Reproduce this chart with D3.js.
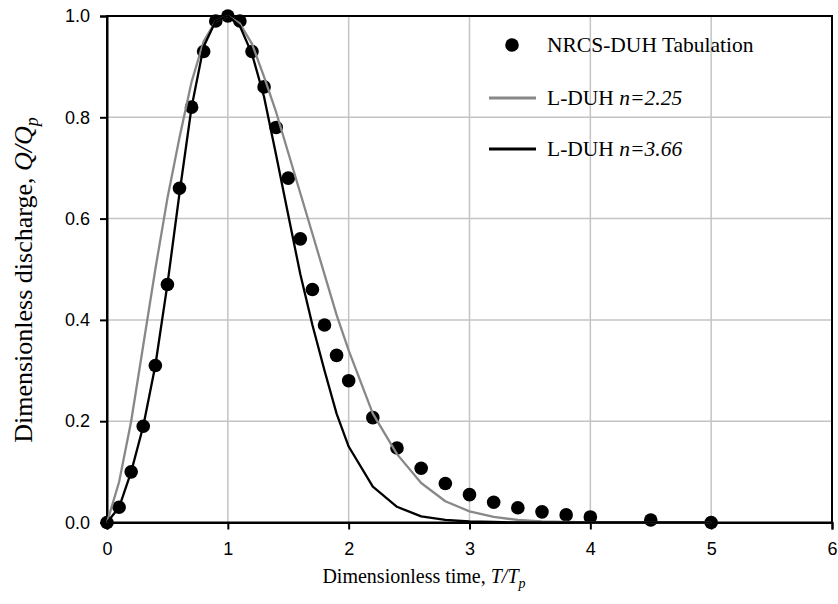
<!DOCTYPE html>
<html><head><meta charset="utf-8">
<script src="https://cdn.jsdelivr.net/npm/d3@7"></script>
<style>body{margin:0;background:#fff}svg{display:block}</style>
</head><body>
<svg id="c" width="838" height="604"></svg>
<script>
// Time ordinates T/Tp
const tValues = [0,0.1,0.2,0.3,0.4,0.5,0.6,0.7,0.8,0.9,1.0,1.1,1.2,1.3,1.4,1.5,1.6,1.7,1.8,1.9,2.0,2.2,2.4,2.6,2.8,3.0,3.2,3.4,3.6,3.8,4.0,4.5,5.0];
// NRCS-DUH tabulation Q/Qp
const nrcsValues = [0,0.03,0.10,0.19,0.31,0.47,0.66,0.82,0.93,0.99,1.0,0.99,0.93,0.86,0.78,0.68,0.56,0.46,0.39,0.33,0.28,0.207,0.147,0.107,0.077,0.055,0.04,0.029,0.021,0.015,0.011,0.005,0];
// L-DUH n=2.25
const lduh225 = [0,0.08,0.20,0.35,0.50,0.64,0.76,0.87,0.95,0.99,1.0,0.985,0.945,0.88,0.81,0.73,0.65,0.57,0.49,0.41,0.34,0.215,0.135,0.078,0.042,0.022,0.011,0.005,0.002,0.001,0,0,0];
// L-DUH n=3.66
const lduh366 = [0,0.03,0.10,0.19,0.31,0.47,0.65,0.82,0.94,0.99,1.0,0.98,0.925,0.84,0.725,0.607,0.49,0.39,0.30,0.215,0.15,0.071,0.031,0.012,0.005,0.002,0.001,0,0,0,0,0,0];
const xTicks = [0,1,2,3,4,5,6];
const yTicks = [0,0.2,0.4,0.6,0.8,1.0];
const legendLabels = ["NRCS-DUH Tabulation","L-DUH ","L-DUH "];
const legendItalic = ["","n=2.25","n=3.66"];

const svg = d3.select("#c");
const L=107, R=832, T=16, B=522.5;
const x = d3.scaleLinear().domain([0,6]).range([L,R]);
const y = d3.scaleLinear().domain([0,1]).range([B,T]);

// gridlines
const grid = svg.append("g");
grid.selectAll("line.vx").data(xTicks.filter(d=>d>0&&d<6)).join("line")
  .attr("x1",d=>x(d)).attr("x2",d=>x(d)).attr("y1",T).attr("y2",B)
  .attr("stroke","#c4c4c4").attr("stroke-width",1.5);
grid.selectAll("line.hy").data(yTicks.filter(d=>d>0&&d<1)).join("line")
  .attr("x1",L).attr("x2",R).attr("y1",d=>y(d)).attr("y2",d=>y(d))
  .attr("stroke","#c4c4c4").attr("stroke-width",1.5);

// frame
svg.append("rect").attr("x",L).attr("y",T).attr("width",R-L).attr("height",B-T)
  .attr("fill","none").attr("stroke","#000").attr("stroke-width",2);

// axes
const xAxis = d3.axisBottom(x).tickValues(xTicks).tickFormat(d3.format("d")).tickSizeOuter(0).tickSize(7).tickPadding(13);
const yAxis = d3.axisLeft(y).tickValues(yTicks).tickFormat(d3.format(".1f")).tickSizeOuter(0).tickSize(7).tickPadding(10);
const gx = svg.append("g").attr("transform",`translate(0,${B})`).call(xAxis);
const gy = svg.append("g").attr("transform",`translate(${L},0)`).call(yAxis);
[gx,gy].forEach(g=>{
  g.select(".domain").attr("stroke","#000").attr("stroke-width",2);
  g.selectAll(".tick line").attr("stroke","#000").attr("stroke-width",2);
  g.selectAll(".tick text").attr("font-family","Liberation Sans, Arial, sans-serif").attr("font-size",18).attr("fill","#000");
});

const pts = tValues.map((t,i)=>({t, q:nrcsValues[i], a:lduh225[i], b:lduh366[i]}));

// dots
svg.append("g").selectAll("circle").data(pts).join("circle")
  .attr("cx",d=>x(d.t)).attr("cy",d=>y(d.q)).attr("r",6.8).attr("fill","#000");

const line = key => d3.line().x(d=>x(d.t)).y(d=>y(d[key]));
svg.append("path").datum(pts).attr("d",line("a")).attr("fill","none")
  .attr("stroke","#888").attr("stroke-width",2.3).attr("stroke-linejoin","round");
svg.append("path").datum(pts).attr("d",line("b")).attr("fill","none")
  .attr("stroke","#000").attr("stroke-width",2.3).attr("stroke-linejoin","round");

// legend
const serif = "Liberation Serif, Times New Roman, serif";
const lg = svg.append("g");
const ly = [45,98,149];
lg.append("circle").attr("cx",512).attr("cy",ly[0]).attr("r",6.8).attr("fill","#000");
lg.append("line").attr("x1",489).attr("x2",536).attr("y1",ly[1]).attr("y2",ly[1]).attr("stroke","#888").attr("stroke-width",2.8);
lg.append("line").attr("x1",489).attr("x2",536).attr("y1",ly[2]).attr("y2",ly[2]).attr("stroke","#000").attr("stroke-width",2.8);
legendLabels.forEach((lab,i)=>{
  const t = lg.append("text").attr("x",547).attr("y",ly[i]+7).attr("font-family",serif).attr("font-size",21.5).attr("fill","#000");
  t.append("tspan").text(lab);
  if (legendItalic[i]) t.append("tspan").attr("font-style","italic").text(legendItalic[i]);
});

// axis titles
const xt = svg.append("text").attr("x",424).attr("y",583).attr("text-anchor","middle")
  .attr("font-family",serif).attr("font-size",20).attr("fill","#000");
xt.append("tspan").text("Dimensionless time, ");
xt.append("tspan").attr("font-style","italic").text("T/T");
xt.append("tspan").attr("font-style","italic").attr("font-size",14).attr("dy",5).text("p");

const yt = svg.append("text").attr("transform","translate(32,280) rotate(-90)").attr("text-anchor","middle")
  .attr("font-family",serif).attr("font-size",26).attr("fill","#000");
yt.append("tspan").text("Dimensionless discharge, ");
yt.append("tspan").attr("font-style","italic").text("Q/Q");
yt.append("tspan").attr("font-style","italic").attr("font-size",18).attr("dy",6).text("p");
</script>
</body></html>
